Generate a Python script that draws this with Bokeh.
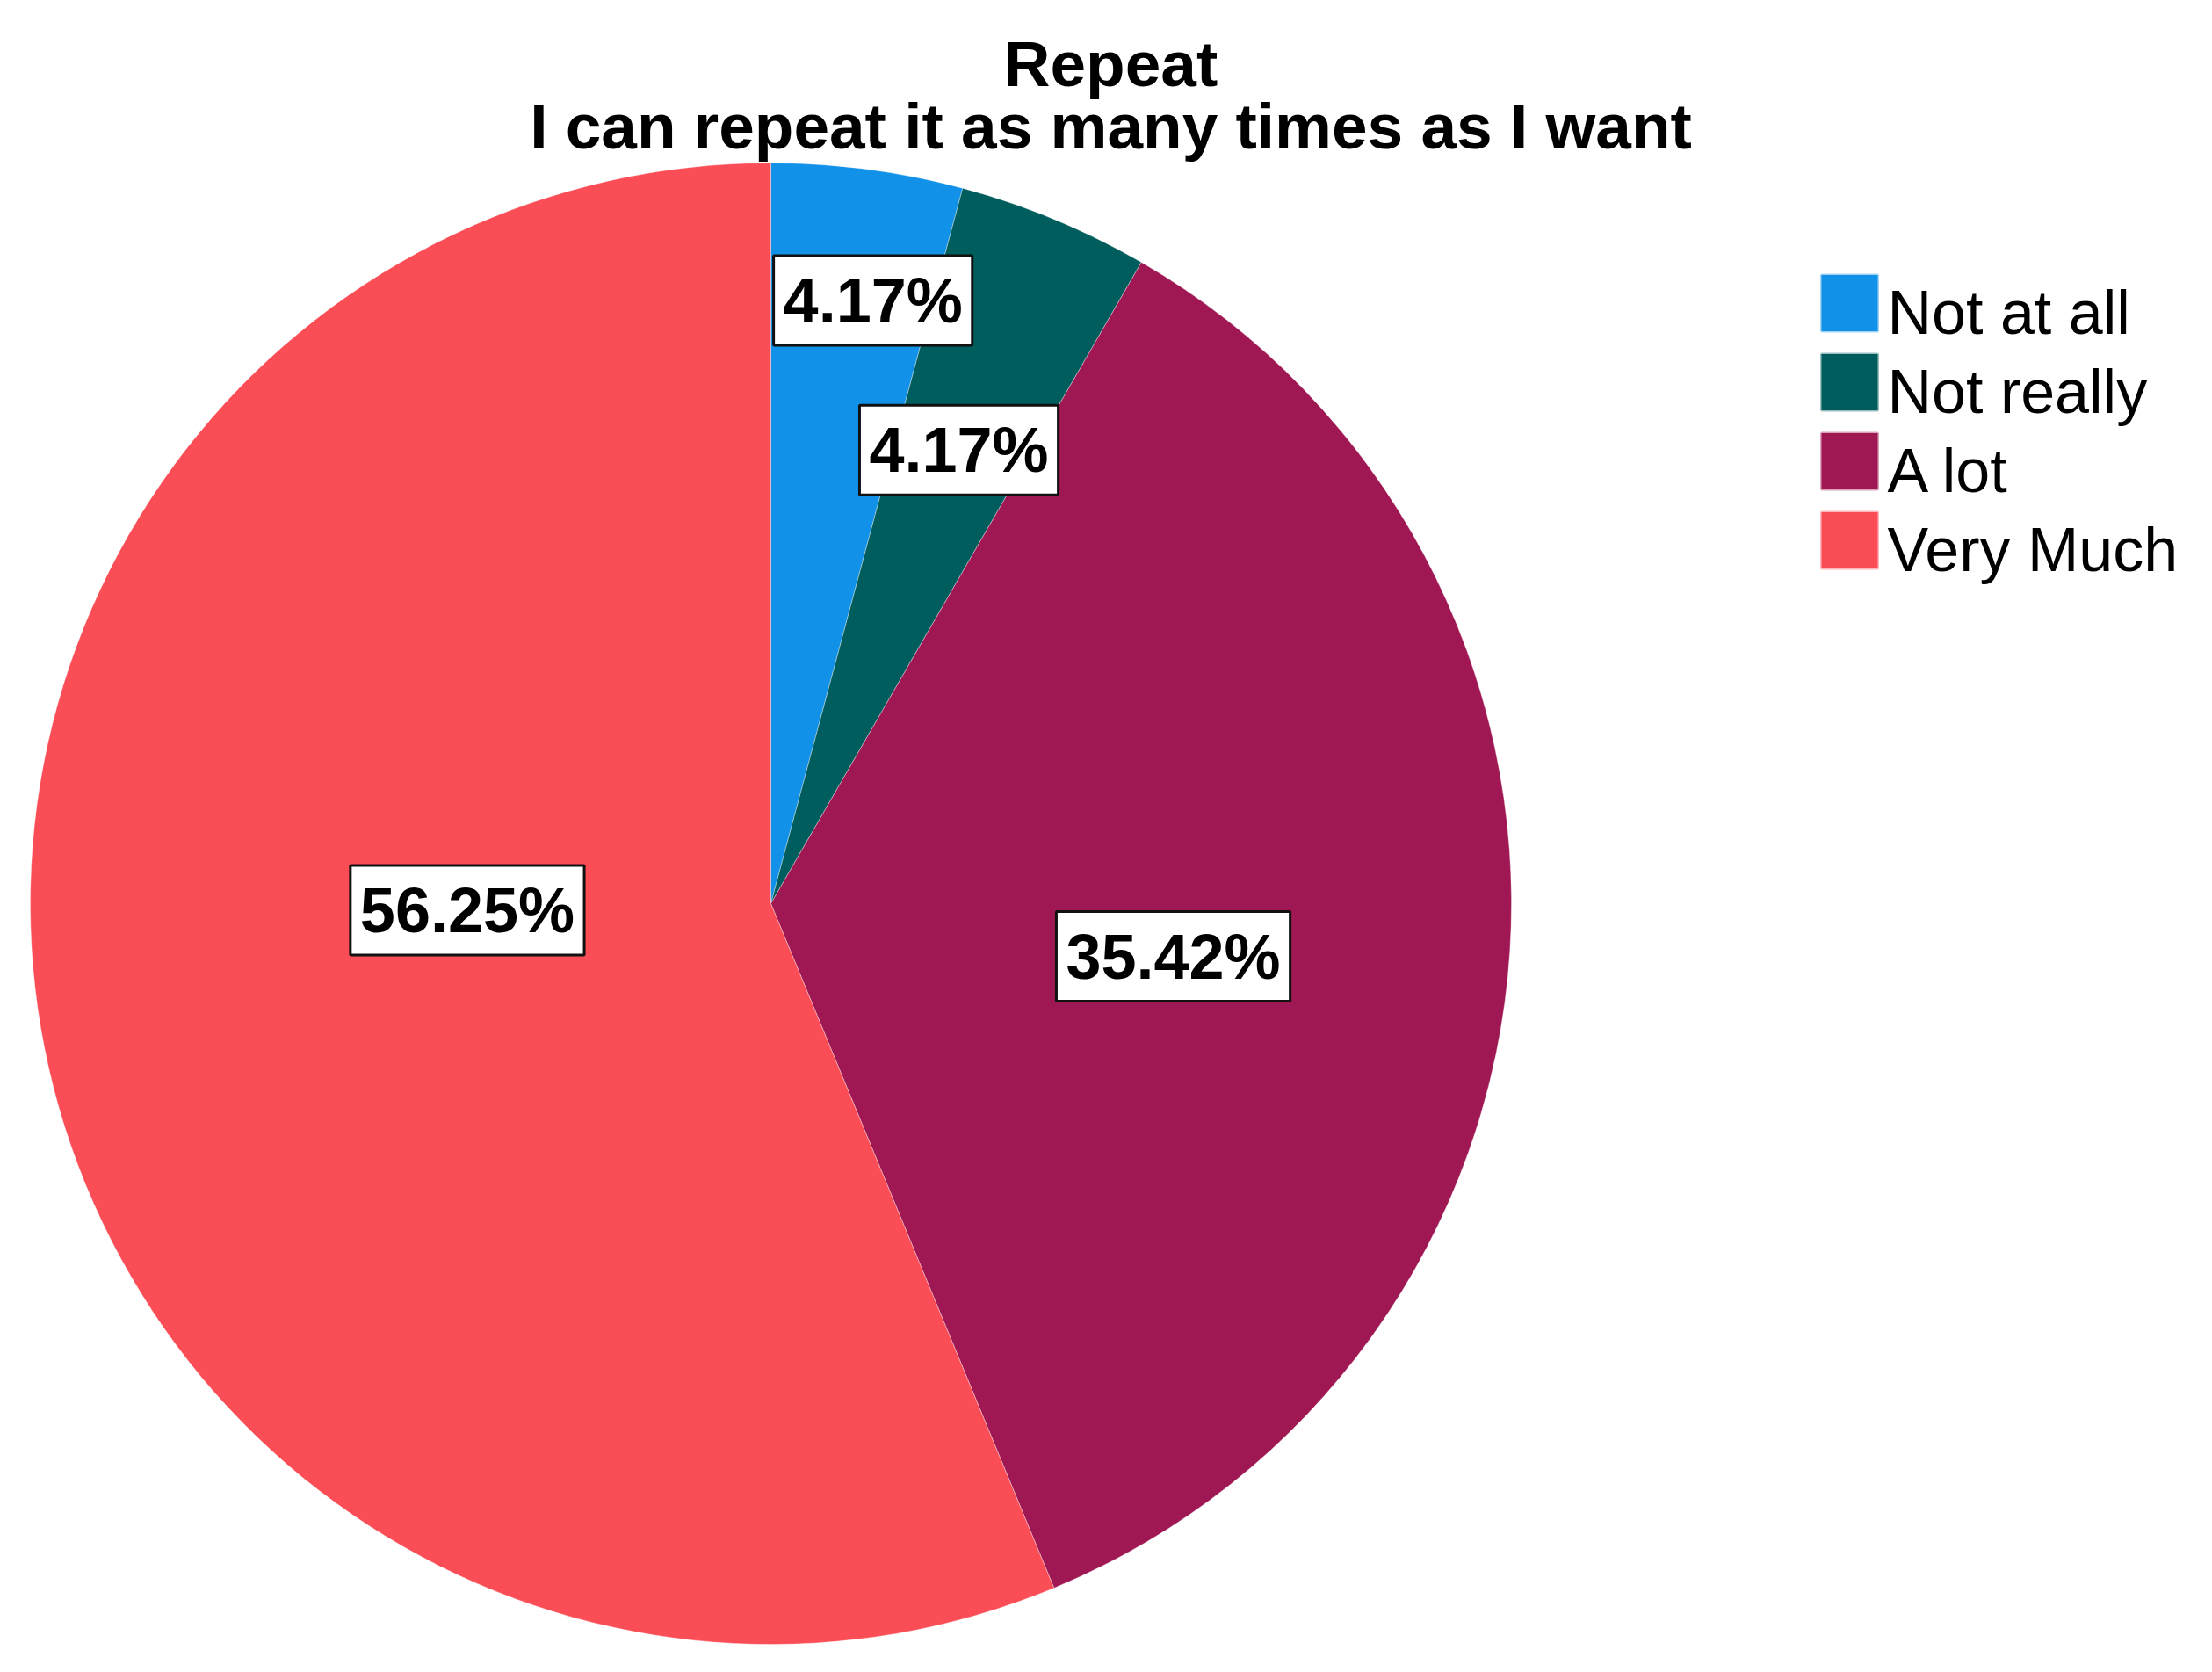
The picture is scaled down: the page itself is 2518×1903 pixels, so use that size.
import math
from bokeh.plotting import figure
from bokeh.models import Range1d, ColumnDataSource
from bokeh.core.properties import value
from bokeh.embed import file_html
from bokeh.resources import INLINE

# ---- data ----
categories = ["Not at all", "Not really", "A lot", "Very Much"]
percents = [4.17, 4.17, 35.42, 56.25]
colors = ["#1192E8", "#005D5D", "#9F1853", "#FA4D56"]
title_lines = ["Repeat", "I can repeat it as many times as I want"]

# ---- layout (pixels) ----
W, H = 2502, 1887
TOP = 1903
cx, cy, R = 877, TOP - 1028, 843
# label placement: radius fraction and angular shift (deg) from slice middle
label_rfrac = [0.826, 0.663, 0.548, 0.41]
label_shift = [-2.1, 0.0, -3.7, -10.0]

p = figure(width=W, height=H, output_backend="svg", toolbar_location=None,
           x_range=Range1d(0, W), y_range=Range1d(TOP - H, TOP),
           min_border=0, outline_line_color=None)
p.axis.visible = False
p.grid.visible = False
p.background_fill_color = "white"
p.border_fill_color = "white"

total = sum(percents)
starts, ends, lx, ly, labels = [], [], [], [], []
cum = 0.0
for i, v in enumerate(percents):
    a0 = math.pi / 2 - 2 * math.pi * cum / total
    cum += v
    a1 = math.pi / 2 - 2 * math.pi * cum / total
    starts.append(a0)
    ends.append(a1)
    mid = (a0 + a1) / 2 + math.radians(label_shift[i])
    lx.append(cx + label_rfrac[i] * R * math.cos(mid))
    ly.append(cy + label_rfrac[i] * R * math.sin(mid))
    labels.append(f"{v:.2f}%")

src = ColumnDataSource(dict(start=starts, end=ends, color=colors, cat=categories,
                            lx=lx, ly=ly, label=labels))

p.wedge(x=cx, y=cy, radius=R, start_angle="start", end_angle="end",
        direction="clock", fill_color="color", line_color="white",
        line_alpha=0.35, line_width=1, source=src)

p.text(x="lx", y="ly", text="label", source=src,
       text_font=value("Liberation Sans"), text_font_style="bold",
       text_font_size="72px", text_color="black",
       text_align="center", text_baseline="middle",
       background_fill_color="white", border_line_color="#111111",
       border_line_width=3, padding=11)

# title
p.text(x=[1264, 1264], y=[TOP - 72, TOP - 143], text=title_lines,
       text_font=value("Liberation Sans"), text_font_style="bold",
       text_font_size="73px", text_color="black",
       text_align="center", text_baseline="middle")

# legend
n = len(categories)
leg_x = [2105] * n
leg_y = [TOP - 344.5 - 90 * i for i in range(n)]
txt_y = [TOP - 355 - 90 * i for i in range(n)]
p.rect(x=leg_x, y=leg_y, width=64, height=64, fill_color=colors,
       line_color=colors, line_alpha=0.4, line_width=3)
p.text(x=[2148] * n, y=txt_y, text=categories,
       text_font=value("Liberation Sans"), text_font_size="70px",
       text_color="black", text_align="left", text_baseline="middle")

open("out.html", "w").write(file_html(p, INLINE))
